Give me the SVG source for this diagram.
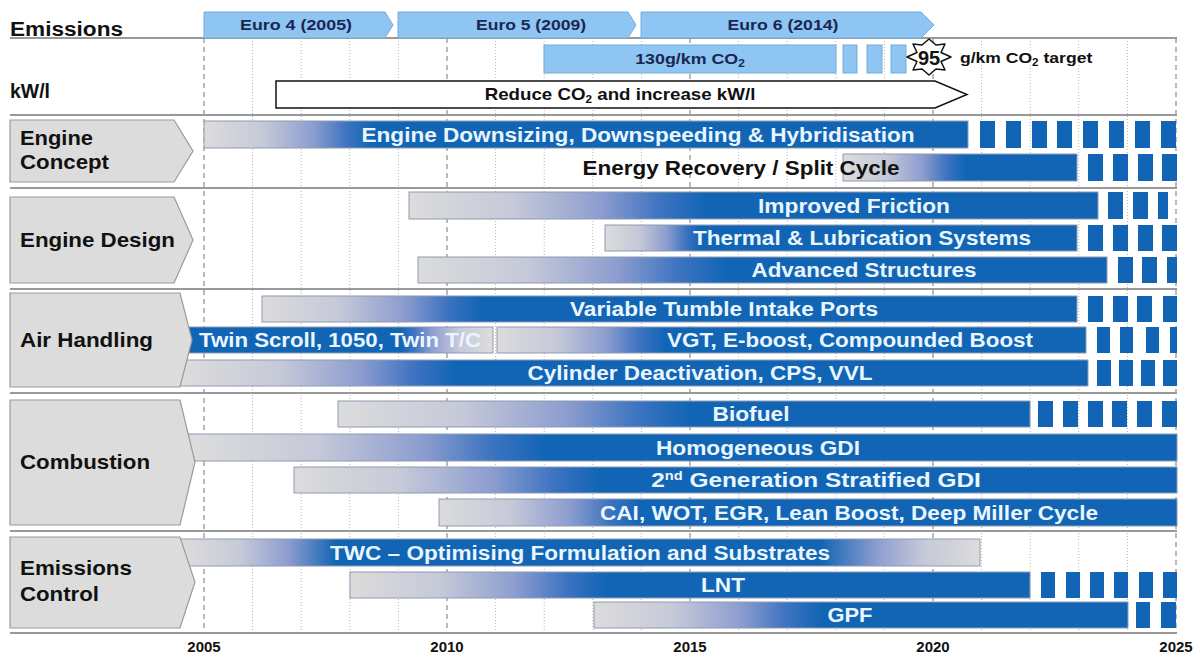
<svg xmlns="http://www.w3.org/2000/svg" width="1196" height="655" viewBox="0 0 1196 655">
<style>
.hd{font-family:"Liberation Sans",Arial,sans-serif;font-weight:bold;fill:#111}
.cat{font-family:"Liberation Sans",Arial,sans-serif;font-weight:bold;font-size:21px;fill:#111}
.eu{font-family:"Liberation Sans",Arial,sans-serif;font-weight:bold;font-size:15px;fill:#1b2752;text-anchor:middle}
.bt{font-family:"Liberation Sans",Arial,sans-serif;font-weight:bold;font-size:20px;fill:#e9f6ff;text-anchor:middle}
.yr{font-family:"Liberation Sans",Arial,sans-serif;font-weight:bold;font-size:15px;fill:#111;text-anchor:middle}
.sep{stroke:#999;stroke-width:2}
.dot{stroke:#b4b4b4;stroke-width:1;stroke-dasharray:1 2}
.dash{stroke:#a4a4a4;stroke-width:1.5;stroke-dasharray:5 4}
.pent{fill:#dcdcdc;stroke:#9a9a9a;stroke-width:1.2}
.bar{stroke:#8e9bb3;stroke-width:1}
.sq{fill:#1265b5}
.lb{fill:#8ec5f2;stroke:#74acd9;stroke-width:1}
</style>
<defs>
<linearGradient id="gBase" gradientUnits="userSpaceOnUse" x1="0" y1="0" x2="100" y2="0">
<stop offset="0" stop-color="#dcdcdc"/>
<stop offset="0.35" stop-color="#c6c9d8"/>
<stop offset="0.65" stop-color="#8c9dcf"/>
<stop offset="0.85" stop-color="#3d73c0"/>
<stop offset="1" stop-color="#1265b5"/>
</linearGradient>
<linearGradient id="gEDS" href="#gBase" x1="204" x2="372"/>
<linearGradient id="gER" href="#gBase" x1="843" x2="965"/>
<linearGradient id="gIF" href="#gBase" x1="409" x2="705"/>
<linearGradient id="gTL" href="#gBase" x1="605" x2="700"/>
<linearGradient id="gAS" href="#gBase" x1="418" x2="725"/>
<linearGradient id="gVT" href="#gBase" x1="262" x2="480"/>
<linearGradient id="gTS" href="#gBase" x1="490" x2="400"/>
<linearGradient id="gVGT" href="#gBase" x1="497" x2="665"/>
<linearGradient id="gCD" href="#gBase" x1="185" x2="455"/>
<linearGradient id="gBio" href="#gBase" x1="338" x2="690"/>
<linearGradient id="gHG" href="#gBase" x1="195" x2="545"/>
<linearGradient id="gSG" href="#gBase" x1="294" x2="600"/>
<linearGradient id="gCAI" href="#gBase" x1="439" x2="640"/>
<linearGradient id="gLNT" href="#gBase" x1="350" x2="605"/>
<linearGradient id="gGPF" href="#gBase" x1="594" x2="820"/>
<linearGradient id="gTWC" gradientUnits="userSpaceOnUse" x1="185" y1="0" x2="980" y2="0">
<stop offset="0" stop-color="#dcdcdc"/>
<stop offset="0.07" stop-color="#c6c9d8"/>
<stop offset="0.13" stop-color="#8c9dcf"/>
<stop offset="0.19" stop-color="#1265b5"/>
<stop offset="0.80" stop-color="#1265b5"/>
<stop offset="0.87" stop-color="#8c9dcf"/>
<stop offset="0.93" stop-color="#c6c9d8"/>
<stop offset="1" stop-color="#dcdcdc"/>
</linearGradient>
</defs>
<rect width="1196" height="655" fill="#fff"/>

<g id="grid">
<line class="dash" x1="204" y1="38" x2="204" y2="633"/>
<line class="dot" x1="252.6" y1="38" x2="252.6" y2="633"/>
<line class="dot" x1="301.2" y1="38" x2="301.2" y2="633"/>
<line class="dot" x1="349.8" y1="38" x2="349.8" y2="633"/>
<line class="dot" x1="398.4" y1="38" x2="398.4" y2="633"/>
<line class="dash" x1="447" y1="38" x2="447" y2="633"/>
<line class="dot" x1="495.6" y1="38" x2="495.6" y2="633"/>
<line class="dot" x1="544.2" y1="38" x2="544.2" y2="633"/>
<line class="dot" x1="592.8" y1="38" x2="592.8" y2="633"/>
<line class="dot" x1="641.4" y1="38" x2="641.4" y2="633"/>
<line class="dash" x1="690" y1="38" x2="690" y2="633"/>
<line class="dot" x1="738.6" y1="38" x2="738.6" y2="633"/>
<line class="dot" x1="787.2" y1="38" x2="787.2" y2="633"/>
<line class="dot" x1="835.8" y1="38" x2="835.8" y2="633"/>
<line class="dot" x1="884.4" y1="38" x2="884.4" y2="633"/>
<line class="dash" x1="933" y1="38" x2="933" y2="633"/>
<line class="dot" x1="981.6" y1="38" x2="981.6" y2="633"/>
<line class="dot" x1="1030.2" y1="38" x2="1030.2" y2="633"/>
<line class="dot" x1="1078.8" y1="38" x2="1078.8" y2="633"/>
<line class="dot" x1="1127.4" y1="38" x2="1127.4" y2="633"/>
<line class="dash" x1="1176" y1="38" x2="1176" y2="633"/>
<line class="sep" x1="10" y1="38" x2="1177" y2="38"/>
<line class="sep" x1="10" y1="115" x2="1177" y2="115"/>
<line class="sep" x1="10" y1="188" x2="1177" y2="188"/>
<line class="sep" x1="10" y1="289" x2="1177" y2="289"/>
<line class="sep" x1="10" y1="393" x2="1177" y2="393"/>
<line class="sep" x1="10" y1="531" x2="1177" y2="531"/>
<line class="sep" x1="10" y1="633" x2="1177" y2="633"/>
</g>

<g id="header">
<text class="hd" x="10" y="36" font-size="20" textLength="113" lengthAdjust="spacingAndGlyphs">Emissions</text>
<text class="hd" x="10" y="98" font-size="20" textLength="40" lengthAdjust="spacingAndGlyphs">kW/l</text>
<g id="euro4"><polygon class="lb" points="204,12 385,12 393,25 385,38 204,38"/><text class="eu" x="296" y="30" textLength="112" lengthAdjust="spacingAndGlyphs">Euro 4 (2005)</text></g>
<g id="euro5"><polygon class="lb" points="398,12 628,12 636,25 628,38 398,38"/><text class="eu" x="531" y="30" textLength="110" lengthAdjust="spacingAndGlyphs">Euro 5 (2009)</text></g>
<g id="euro6"><polygon class="lb" points="641,12 921,12 934,25 921,38 641,38"/><text class="eu" x="783" y="30" textLength="111" lengthAdjust="spacingAndGlyphs">Euro 6 (2014)</text></g>
<g id="co2-130">
<rect class="lb" x="544" y="45" width="292" height="28"/>
<text class="eu" transform="translate(690,64) scale(1.19,1)">130g/km CO<tspan font-size="10" dy="3">2</tspan></text>
<rect class="lb" x="843" y="45" width="14" height="28"/>
<rect class="lb" x="867" y="45" width="15" height="28"/>
<rect class="lb" x="891" y="45" width="15" height="28"/>
</g>
<g id="target95">
<polygon points="951,57 941,61.5 945,70 936,69 929,75 922,69 913,70 917,61.5 907,57 917,52.5 913,44 922,45 929,39 936,45 945,44 941,52.5" fill="#fff" stroke="#111" stroke-width="1.5" stroke-linejoin="round"/>
<text class="hd" x="929" y="64.5" font-size="20" text-anchor="middle" font-weight="normal">95</text>
<text class="hd" font-size="15" transform="translate(960,63) scale(1.17,1)">g/km CO<tspan font-size="10" dy="3">2</tspan><tspan dy="-3"> target</tspan></text>
</g>
<g id="reduce">
<polygon points="276,81 935,81 967,94.5 935,108 276,108" fill="#fff" stroke="#111" stroke-width="1.5"/>
<text class="hd" font-size="16" text-anchor="middle" transform="translate(620,100) scale(1.17,1)">Reduce CO<tspan font-size="10" dy="3">2</tspan><tspan dy="-3"> and increase kW/l</tspan></text>
</g>
</g>

<g id="bars">
<g id="bar-downsizing">
<rect class="bar" x="204" y="121" width="764" height="27" fill="url(#gEDS)"/>
<text class="bt" x="638" y="141.5" textLength="553" lengthAdjust="spacingAndGlyphs">Engine Downsizing, Downspeeding &amp; Hybridisation</text>
<rect class="sq" x="980" y="121" width="15" height="27"/><rect class="sq" x="1006" y="121" width="15" height="27"/><rect class="sq" x="1032" y="121" width="15" height="27"/><rect class="sq" x="1057" y="121" width="15" height="27"/><rect class="sq" x="1083" y="121" width="15" height="27"/><rect class="sq" x="1109" y="121" width="15" height="27"/><rect class="sq" x="1135" y="121" width="15" height="27"/><rect class="sq" x="1161" y="121" width="15" height="27"/>
</g>
<g id="bar-energy">
<rect class="bar" x="843" y="154" width="234" height="27" fill="url(#gER)"/>
<text class="bt" x="741" y="175" style="fill:#111" textLength="317" lengthAdjust="spacingAndGlyphs">Energy Recovery / Split Cycle</text>
<rect class="sq" x="1088" y="154" width="15" height="27"/><rect class="sq" x="1113" y="154" width="15" height="27"/><rect class="sq" x="1138" y="154" width="15" height="27"/><rect class="sq" x="1162" y="154" width="15" height="27"/>
</g>
<g id="bar-friction">
<rect class="bar" x="409" y="192" width="689" height="27" fill="url(#gIF)"/>
<text class="bt" x="854" y="212.5" textLength="192" lengthAdjust="spacingAndGlyphs">Improved Friction</text>
<rect class="sq" x="1108" y="192" width="15" height="27"/><rect class="sq" x="1133" y="192" width="15" height="27"/><rect class="sq" x="1158" y="192" width="10" height="27"/>
</g>
<g id="bar-thermal">
<rect class="bar" x="605" y="225" width="472" height="26" fill="url(#gTL)"/>
<text class="bt" x="862" y="245" textLength="338" lengthAdjust="spacingAndGlyphs">Thermal &amp; Lubrication Systems</text>
<rect class="sq" x="1088" y="225" width="15" height="26"/><rect class="sq" x="1113" y="225" width="15" height="26"/><rect class="sq" x="1138" y="225" width="15" height="26"/><rect class="sq" x="1162" y="225" width="15" height="26"/>
</g>
<g id="bar-structures">
<rect class="bar" x="418" y="257" width="689" height="26" fill="url(#gAS)"/>
<text class="bt" x="864" y="277" textLength="225" lengthAdjust="spacingAndGlyphs">Advanced Structures</text>
<rect class="sq" x="1118" y="257" width="15" height="26"/><rect class="sq" x="1142" y="257" width="15" height="26"/><rect class="sq" x="1167" y="257" width="10" height="26"/>
</g>
<g id="bar-tumble">
<rect class="bar" x="262" y="296" width="815" height="26" fill="url(#gVT)"/>
<text class="bt" x="724" y="316" textLength="308" lengthAdjust="spacingAndGlyphs">Variable Tumble Intake Ports</text>
<rect class="sq" x="1088" y="296" width="15" height="26"/><rect class="sq" x="1113" y="296" width="15" height="26"/><rect class="sq" x="1137" y="296" width="15" height="26"/><rect class="sq" x="1163" y="296" width="14" height="26"/>
</g>
<g id="bar-twinscroll">
<rect class="bar" x="185" y="327" width="308" height="26" fill="url(#gTS)"/>
<text class="bt" x="340" y="347" textLength="282" lengthAdjust="spacingAndGlyphs">Twin Scroll, 1050, Twin T/C</text>
</g>
<g id="bar-vgt">
<rect class="bar" x="497" y="327" width="589" height="26" fill="url(#gVGT)"/>
<text class="bt" x="850" y="347" textLength="366" lengthAdjust="spacingAndGlyphs">VGT, E-boost, Compounded Boost</text>
<rect class="sq" x="1097" y="327" width="13" height="26"/><rect class="sq" x="1120" y="327" width="13" height="26"/><rect class="sq" x="1146" y="327" width="13" height="26"/><rect class="sq" x="1170" y="327" width="7" height="26"/>
</g>
<g id="bar-cylinder">
<rect class="bar" x="180" y="360" width="908" height="26" fill="url(#gCD)"/>
<text class="bt" x="700" y="380" textLength="345" lengthAdjust="spacingAndGlyphs">Cylinder Deactivation, CPS, VVL</text>
<rect class="sq" x="1097" y="360" width="14" height="26"/><rect class="sq" x="1119" y="360" width="14" height="26"/><rect class="sq" x="1141" y="360" width="14" height="26"/><rect class="sq" x="1163" y="360" width="14" height="26"/>
</g>
<g id="bar-biofuel">
<rect class="bar" x="338" y="401" width="692" height="26" fill="url(#gBio)"/>
<text class="bt" x="751" y="421" textLength="77" lengthAdjust="spacingAndGlyphs">Biofuel</text>
<rect class="sq" x="1038" y="401" width="15" height="26"/><rect class="sq" x="1063" y="401" width="15" height="26"/><rect class="sq" x="1088" y="401" width="15" height="26"/><rect class="sq" x="1112" y="401" width="15" height="26"/><rect class="sq" x="1137" y="401" width="15" height="26"/><rect class="sq" x="1162" y="401" width="15" height="26"/>
</g>
<g id="bar-hgdi">
<rect class="bar" x="180" y="434" width="997" height="27" fill="url(#gHG)"/>
<text class="bt" x="758" y="454.5" textLength="204" lengthAdjust="spacingAndGlyphs">Homogeneous GDI</text>
</g>
<g id="bar-sgdi">
<rect class="bar" x="294" y="467" width="883" height="26" fill="url(#gSG)"/>
<text class="bt" transform="translate(816,487) scale(1.22,1)">2<tspan font-size="12" dy="-7">nd</tspan><tspan dy="7"> Generation Stratified GDI</tspan></text>
</g>
<g id="bar-cai">
<rect class="bar" x="439" y="499" width="738" height="27" fill="url(#gCAI)"/>
<text class="bt" x="849" y="519.5" textLength="498" lengthAdjust="spacingAndGlyphs">CAI, WOT, EGR, Lean Boost, Deep Miller Cycle</text>
</g>
<g id="bar-twc">
<rect class="bar" x="180" y="539" width="800" height="27" fill="url(#gTWC)"/>
<text class="bt" x="580" y="559.5" textLength="500" lengthAdjust="spacingAndGlyphs">TWC – Optimising Formulation and Substrates</text>
</g>
<g id="bar-lnt">
<rect class="bar" x="350" y="572" width="680" height="26" fill="url(#gLNT)"/>
<text class="bt" x="723" y="592" textLength="44" lengthAdjust="spacingAndGlyphs">LNT</text>
<rect class="sq" x="1041" y="572" width="14" height="26"/><rect class="sq" x="1066" y="572" width="14" height="26"/><rect class="sq" x="1090" y="572" width="14" height="26"/><rect class="sq" x="1114" y="572" width="14" height="26"/><rect class="sq" x="1139" y="572" width="14" height="26"/><rect class="sq" x="1163" y="572" width="14" height="26"/>
</g>
<g id="bar-gpf">
<rect class="bar" x="594" y="602" width="534" height="26" fill="url(#gGPF)"/>
<text class="bt" x="850" y="622" textLength="45" lengthAdjust="spacingAndGlyphs">GPF</text>
<rect class="sq" x="1136" y="602" width="14" height="26"/><rect class="sq" x="1161" y="602" width="15" height="26"/>
</g>
</g>

<g id="cat-engine-concept">
<polygon class="pent" points="10,120 174,120 193,151 174,182 10,182"/>
<text class="cat" x="20" y="145" textLength="73" lengthAdjust="spacingAndGlyphs">Engine</text><text class="cat" x="20" y="169" textLength="89" lengthAdjust="spacingAndGlyphs">Concept</text>
</g>
<g id="cat-engine-design">
<polygon class="pent" points="10,197 174,197 193,240 174,283 10,283"/>
<text class="cat" x="20" y="247" textLength="155" lengthAdjust="spacingAndGlyphs">Engine Design</text>
</g>
<g id="cat-air-handling">
<polygon class="pent" points="10,293 180,293 192,340 180,387 10,387"/>
<text class="cat" x="20" y="347" textLength="133" lengthAdjust="spacingAndGlyphs">Air Handling</text>
</g>
<g id="cat-combustion">
<polygon class="pent" points="10,400 180,400 195,462 180,525 10,525"/>
<text class="cat" x="20" y="469" textLength="130" lengthAdjust="spacingAndGlyphs">Combustion</text>
</g>
<g id="cat-emissions-control">
<polygon class="pent" points="10,537 180,537 195,582 180,628 10,628"/>
<text class="cat" x="20" y="575" textLength="112" lengthAdjust="spacingAndGlyphs">Emissions</text><text class="cat" x="20" y="601" textLength="79" lengthAdjust="spacingAndGlyphs">Control</text>
</g>

<g id="axis">
<text class="yr" x="204" y="652">2005</text>
<text class="yr" x="447" y="652">2010</text>
<text class="yr" x="690" y="652">2015</text>
<text class="yr" x="933" y="652">2020</text>
<text class="yr" x="1176" y="652">2025</text>
</g>
</svg>
